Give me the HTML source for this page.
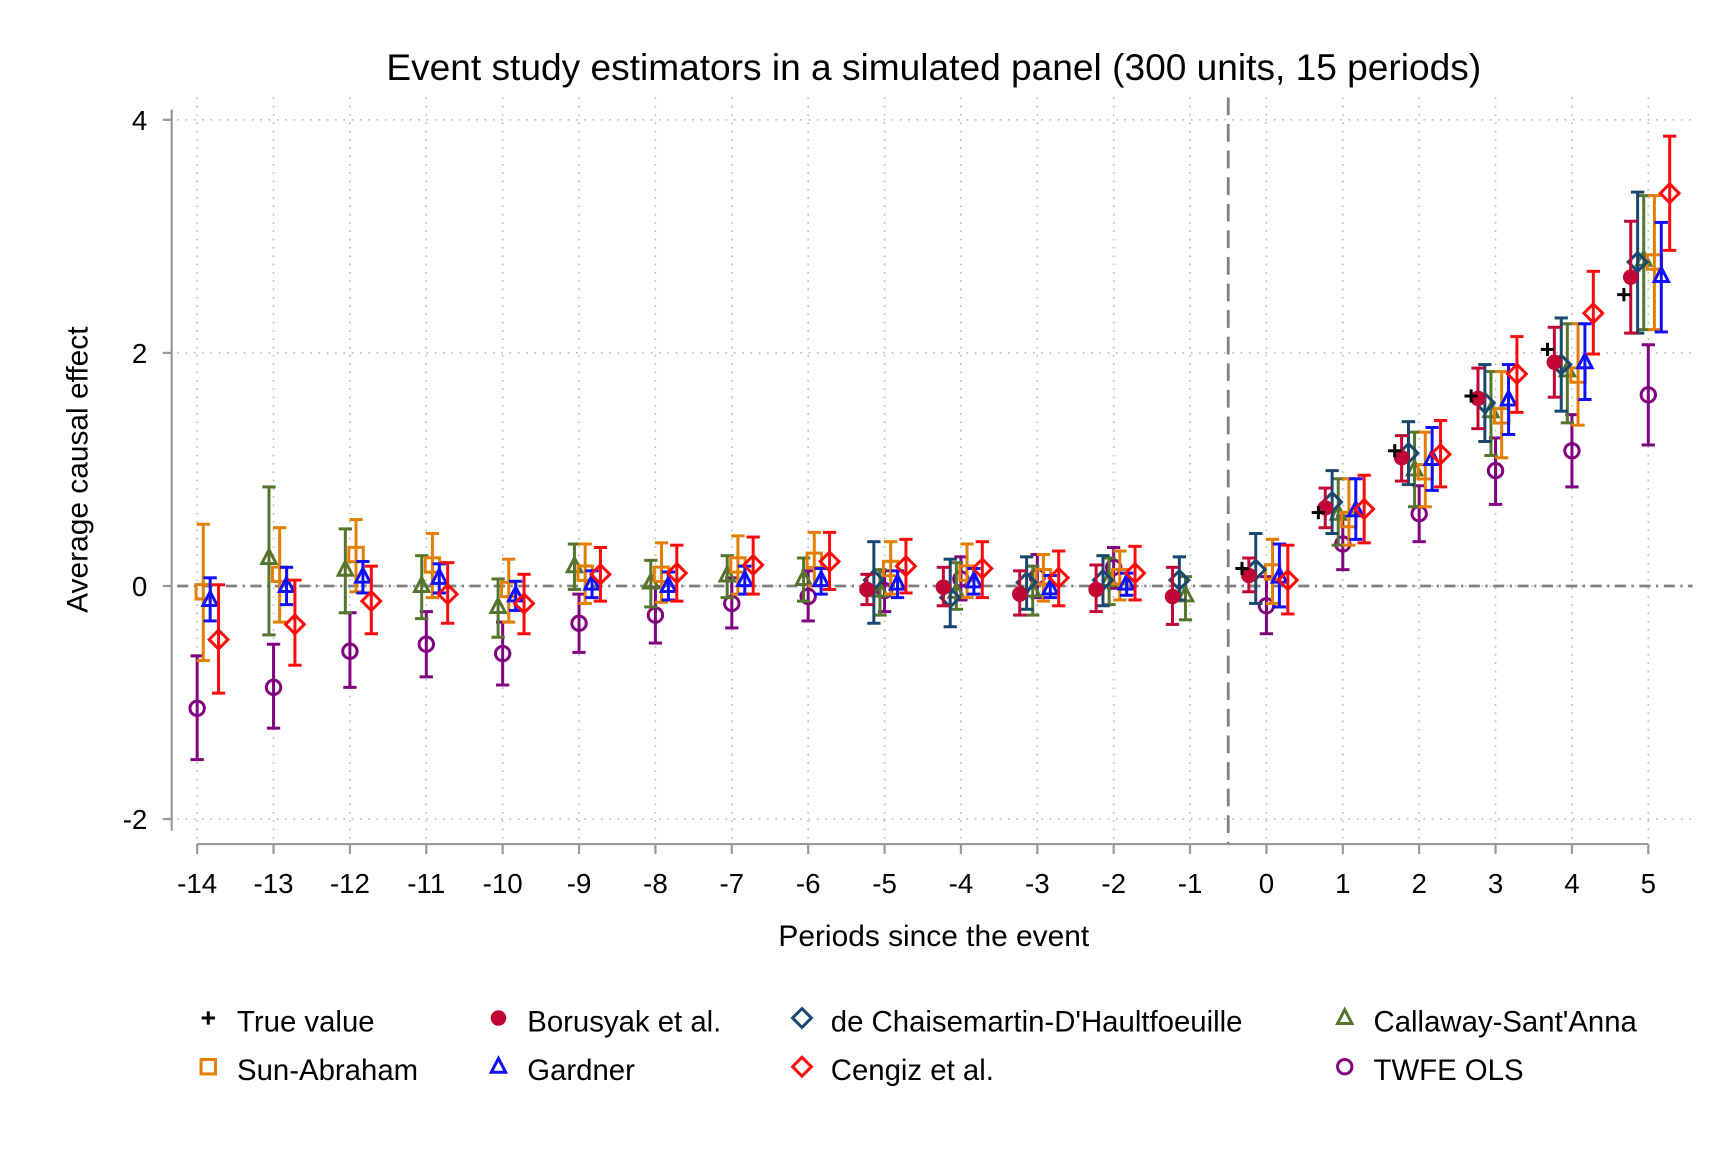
<!DOCTYPE html>
<html><head><meta charset="utf-8"><style>
html,body{margin:0;padding:0;background:#fff}
svg{display:block;font-family:"Liberation Sans",Arial,sans-serif}
</style></head><body>
<svg id="chart" width="1728" height="1152" viewBox="0 0 1560 1040" xmlns="http://www.w3.org/2000/svg">
<rect width="1560" height="1040" fill="#fff"/>
<text x="843" y="72" text-anchor="middle" font-size="33.5">Event study estimators in a simulated panel (300 units, 15 periods)</text>
<g id="grid"></g>
<g id="axes"></g>
<g id="marks"></g>
<text transform="translate(79,424) rotate(-90)" text-anchor="middle" font-size="27">Average causal effect</text>
<text x="843" y="854" text-anchor="middle" font-size="27">Periods since the event</text>
<g id="legend"></g>
</svg>
<script>
const periods=[-14,-13,-12,-11,-10,-9,-8,-7,-6,-5,-4,-3,-2,-1,0,1,2,3,4,5];
const yTicks=[-2,0,2,4];
const truePeriods=[0,1,2,3,4,5];
const trueVals=[0.15,0.63,1.16,1.63,2.03,2.5];
const borPeriods=[-5,-4,-3,-2,-1,0,1,2,3,4,5];
const borPt=[-0.03,-0.01,-0.07,-0.03,-0.09,0.09,0.67,1.1,1.61,1.92,2.65];
const borLo=[-0.16,-0.17,-0.25,-0.22,-0.33,-0.05,0.5,0.9,1.35,1.62,2.17];
const borHi=[0.1,0.16,0.13,0.18,0.16,0.24,0.84,1.29,1.87,2.22,3.13];
const dcPeriods=[-5,-4,-3,-2,-1,0,1,2,3,4,5];
const dcPt=[0.05,-0.1,0.03,0.05,0.05,0.14,0.72,1.14,1.57,1.9,2.78];
const dcLo=[-0.32,-0.35,-0.2,-0.17,-0.12,-0.15,0.45,0.87,1.24,1.5,2.17];
const dcHi=[0.38,0.23,0.25,0.26,0.25,0.45,0.99,1.41,1.9,2.3,3.38];
const csPeriods=[-13,-12,-11,-10,-9,-8,-7,-6,-5,-4,-3,-2,-1,1,2,3,4,5];
const csPt=[0.24,0.14,0,-0.18,0.17,0.03,0.09,0.06,-0.04,-0.05,-0.04,0.05,-0.08,0.62,1.0,1.5,1.85,2.8];
const csLo=[-0.42,-0.23,-0.28,-0.44,-0.03,-0.18,-0.1,-0.13,-0.25,-0.2,-0.25,-0.16,-0.29,0.35,0.68,1.12,1.4,2.2];
const csHi=[0.85,0.49,0.26,0.06,0.36,0.22,0.26,0.24,0.14,0.2,0.17,0.24,0.08,0.92,1.32,1.84,2.25,3.35];
const saPeriods=[-14,-13,-12,-11,-10,-9,-8,-7,-6,-5,-4,-3,-2,0,1,2,3,4,5];
const saPt=[-0.05,0.1,0.27,0.18,-0.03,0.11,0.1,0.18,0.22,0.15,0.11,0.08,0.08,0.12,0.57,0.98,1.46,1.81,2.78];
const saLo=[-0.64,-0.31,-0.05,-0.1,-0.31,-0.15,-0.14,-0.07,0,-0.07,-0.1,-0.13,-0.12,-0.15,0.35,0.68,1.1,1.38,2.2];
const saHi=[0.53,0.5,0.57,0.45,0.23,0.36,0.37,0.43,0.46,0.38,0.36,0.27,0.3,0.4,0.92,1.32,1.84,2.25,3.35];
const gaPeriods=[-14,-13,-12,-11,-10,-9,-8,-7,-6,-5,-4,-3,-2,0,1,2,3,4,5];
const gaPt=[-0.12,0,0.08,0.07,-0.08,0.02,0,0.05,0.05,0.02,0.04,-0.02,0.02,0.08,0.65,1.09,1.6,1.92,2.66];
const gaLo=[-0.3,-0.16,-0.06,-0.06,-0.21,-0.1,-0.12,-0.07,-0.07,-0.1,-0.07,-0.1,-0.08,-0.18,0.4,0.82,1.3,1.6,2.18];
const gaHi=[0.07,0.16,0.21,0.19,0.04,0.13,0.12,0.17,0.15,0.13,0.15,0.09,0.11,0.36,0.92,1.36,1.9,2.25,3.12];
const ceperiods=[-14,-13,-12,-11,-10,-9,-8,-7,-6,-5,-4,-3,-2,0,1,2,3,4,5];
const cePt=[-0.46,-0.33,-0.13,-0.07,-0.15,0.1,0.11,0.18,0.21,0.17,0.15,0.07,0.11,0.05,0.66,1.13,1.82,2.34,3.37];
const ceLo=[-0.92,-0.68,-0.41,-0.32,-0.41,-0.13,-0.13,-0.07,-0.03,-0.06,-0.1,-0.17,-0.12,-0.24,0.37,0.85,1.49,1.99,2.88];
const ceHi=[0.01,0.05,0.17,0.2,0.1,0.33,0.35,0.42,0.46,0.4,0.38,0.3,0.34,0.35,0.95,1.42,2.14,2.7,3.86];
const twPeriods=[-14,-13,-12,-11,-10,-9,-8,-7,-6,-5,-4,-3,-2,0,1,2,3,4,5];
const twPt=[-1.05,-0.87,-0.56,-0.5,-0.58,-0.32,-0.25,-0.15,-0.09,-0.04,0.06,0.08,0.16,-0.17,0.36,0.62,0.99,1.16,1.64];
const twLo=[-1.49,-1.22,-0.87,-0.78,-0.85,-0.57,-0.49,-0.36,-0.3,-0.22,-0.12,-0.1,-0.02,-0.41,0.14,0.38,0.7,0.85,1.21];
const twHi=[-0.6,-0.5,-0.23,-0.22,-0.31,-0.07,-0.01,0.07,0.13,0.13,0.25,0.27,0.33,0.08,0.6,0.86,1.27,1.47,2.07];

const NS="http://www.w3.org/2000/svg";
const xs=t=>178+(t+14)*68.95;
const ys=v=>529-v*105.2;
function mk(tag,attrs,parent){const e=document.createElementNS(NS,tag);for(const k in attrs)e.setAttribute(k,attrs[k]);parent.appendChild(e);return e;}
const grid=document.getElementById('grid'),axes=document.getElementById('axes'),marks=document.getElementById('marks'),legend=document.getElementById('legend');

yTicks.forEach(v=>{
  const g=mk('line',{x1:160,x2:1528,y1:ys(v),y2:ys(v),stroke:'#bbb','stroke-width':1.5,'stroke-dasharray':'1.5 6'},grid);
  
  
  const t=mk('line',{x1:147,x2:155,y1:ys(v),y2:ys(v),stroke:'#999','stroke-width':2},axes);
  
  
  const l=mk('text',{x:133,y:ys(v)+9,'text-anchor':'end','font-size':25},axes);
  l.textContent=v;
  
  
});
periods.forEach(p=>{
  const g=mk('line',{x1:xs(p),x2:xs(p),y1:88,y2:762,stroke:'#bbb','stroke-width':1.5,'stroke-dasharray':'1.5 6'},grid);
  
  
  const t=mk('line',{x1:xs(p),x2:xs(p),y1:762,y2:771,stroke:'#999','stroke-width':2},axes);
  
  
  const l=mk('text',{x:xs(p),y:806,'text-anchor':'middle','font-size':25},axes);
  l.textContent=p;
  
  
});
let a=mk('line',{x1:155,x2:155,y1:99,y2:750,stroke:'#999','stroke-width':2},axes);


a=mk('line',{x1:178,x2:1488,y1:762,y2:762,stroke:'#999','stroke-width':2},axes);


a=mk('line',{x1:160,x2:1528,y1:ys(0),y2:ys(0),stroke:'#808080','stroke-width':2.5,'stroke-dasharray':'10 5 2 5'},axes);


a=mk('line',{x1:xs(-0.5),x2:xs(-0.5),y1:88,y2:762,stroke:'#808080','stroke-width':2.5,'stroke-dasharray':'16 8'},axes);



function marker(kind,cx,cy,color,parent){
  const s=6.5;
  let e;
  if(kind==='circleFill') e=mk('circle',{cx,cy,r:7,fill:color},parent);
  else if(kind==='circle') e=mk('circle',{cx,cy,r:6.5,fill:'none',stroke:color,'stroke-width':2.7},parent);
  else if(kind==='square') e=mk('rect',{x:cx-s,y:cy-s,width:2*s,height:2*s,fill:'none',stroke:color,'stroke-width':2.7},parent);
  else if(kind==='diamond') e=mk('polygon',{points:`${cx},${cy-8.5} ${cx+8.5},${cy} ${cx},${cy+8.5} ${cx-8.5},${cy}`,fill:'none',stroke:color,'stroke-width':2.7},parent);
  else if(kind==='triangle') e=mk('polygon',{points:`${cx},${cy-7.5} ${cx+6.5},${cy+5} ${cx-6.5},${cy+5}`,fill:'none',stroke:color,'stroke-width':2.7},parent);
  else if(kind==='plus'){e=mk('g',{},parent);mk('line',{x1:cx-6,x2:cx+6,y1:cy,y2:cy,stroke:color,'stroke-width':2.7},e);mk('line',{x1:cx,x2:cx,y1:cy-6,y2:cy+6,stroke:color,'stroke-width':2.7},e);}
  return e;
}
function series(name,per,pt,lo,hi,off,color,kind){
  const g=mk('g',{},marks);
  
  
  per.forEach((p,i)=>{
    const cx=xs(p+off);
    if(lo){
      const b=mk('g',{stroke:color,'stroke-width':2.7},g);
      
      
      mk('line',{x1:cx,x2:cx,y1:ys(lo[i]),y2:ys(hi[i])},b);
      mk('line',{x1:cx-6,x2:cx+6,y1:ys(lo[i]),y2:ys(lo[i])},b);
      mk('line',{x1:cx-6,x2:cx+6,y1:ys(hi[i]),y2:ys(hi[i])},b);
    }
    const m=marker(kind,cx,ys(pt[i]),color,g);
    
    
  });
}
series('twfe-ols',twPeriods,twPt,twLo,twHi,0,'#800080','circle');
series('callaway-santanna',csPeriods,csPt,csLo,csHi,-0.06,'#55752f','triangle');
series('sun-abraham',saPeriods,saPt,saLo,saHi,0.08,'#e37e00','square');
series('de-chaisemartin',dcPeriods,dcPt,dcLo,dcHi,-0.14,'#1a476f','diamond');
series('borusyak',borPeriods,borPt,borLo,borHi,-0.23,'#c10534','circleFill');
series('gardner',gaPeriods,gaPt,gaLo,gaHi,0.17,'#1010ff','triangle');
series('cengiz',ceperiods,cePt,ceLo,ceHi,0.28,'#ff0a0a','diamond');
series('true-value',truePeriods,trueVals,null,null,-0.32,'#000','plus');

const legNames=['True value','Borusyak et al.',"de Chaisemartin-D'Haultfoeuille","Callaway-Sant'Anna",'Sun-Abraham','Gardner','Cengiz et al.','TWFE OLS'];
const legKinds=['plus','circleFill','diamond','triangle','square','triangle','diamond','circle'];
const legColors=['#000','#c10534','#1a476f','#55752f','#e37e00','#1010ff','#ff0a0a','#800080'];
const legX=[188,450,724,1214];
legNames.forEach((n,i)=>{
  const g=mk('g',{},legend);
  
  
  const col=i%4,row=Math.floor(i/4);
  const y=row?966:922;
  marker(legKinds[i],legX[col],y-3,legColors[i],g);
  const t=mk('text',{x:legX[col]+26,y:y+9,'font-size':26.5},g);
  t.textContent=n;
});
</script>
</body></html>
